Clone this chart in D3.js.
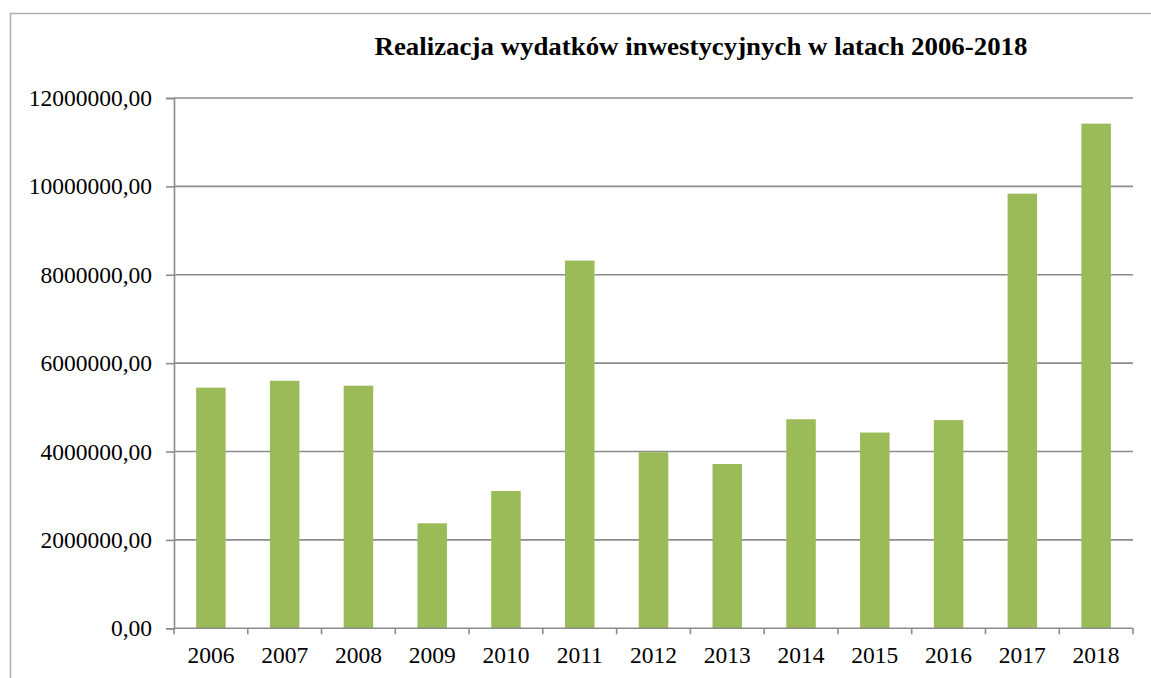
<!DOCTYPE html>
<html>
<head>
<meta charset="utf-8">
<script src="https://cdn.jsdelivr.net/npm/d3@7"></script>
<style>
  body { margin: 0; background: #fff; }
  text { font-family: "Liberation Serif", "Times New Roman", serif; fill: #000; }
</style>
</head>
<body>
<svg id="chart" width="1151" height="678"></svg>
<script>
// data
const years = ["2006", "2007", "2008", "2009", "2010", "2011", "2012",
               "2013", "2014", "2015", "2016", "2017", "2018"];
const spending = [5445000, 5600000, 5490000, 2376000, 3107000, 8320000, 3985000,
                  3718000, 4730000, 4430000, 4710000, 9835000, 11420000];
const yTicks = [0, 2000000, 4000000, 6000000, 8000000, 10000000, 12000000];
const title = "Realizacja wydatków inwestycyjnych w latach 2006-2018";

let chart = d3.select("#chart"),
    margin = {top: 98, right: 18, bottom: 50, left: 174},
    width = 1133 - margin.left,
    height = 628.3 - margin.top;

// outer frame (only left and top edges show in the picture)
chart.append("rect")
    .attr("x", 10.5)
    .attr("y", 13.5)
    .attr("width", 1160)
    .attr("height", 700)
    .attr("fill", "none")
    .attr("stroke", "#b0b0b0")
    .attr("stroke-width", 1.5);

let x = d3.scaleBand()
    .domain(years)
    .range([0, width])
    .paddingInner(0.6)
    .paddingOuter(0.3);

let y = d3.scaleLinear()
    .domain([0, 12000000])
    .range([height, 0]);

let fmt = d => d3.format("d")(d) + ",00";

let g = chart.append("g")
    .attr("transform", "translate(" + margin.left + "," + margin.top + ")");

// horizontal grid lines
g.append("g")
    .selectAll("line")
    .data(yTicks.slice(1))
    .enter()
    .append("line")
    .attr("x1", 0)
    .attr("x2", width)
    .attr("y1", d => y(d))
    .attr("y2", d => y(d))
    .attr("stroke", "#8c8c8c")
    .attr("stroke-width", 1.6);

// bars
g.selectAll("rect.bar")
    .data(spending)
    .enter()
    .append("rect")
    .attr("class", "bar")
    .attr("x", (d, i) => x(years[i]))
    .attr("y", d => y(d))
    .attr("width", x.bandwidth())
    .attr("height", d => height - y(d))
    .attr("fill", "#9bbb59");

// y axis
let yAxis = g.append("g")
    .call(d3.axisLeft(y).tickValues(yTicks).tickFormat(fmt).tickSize(8).tickPadding(14));
yAxis.select(".domain").attr("stroke", "#8c8c8c").attr("stroke-width", 1.6);
yAxis.selectAll(".tick line").attr("stroke", "#8c8c8c").attr("stroke-width", 1.6);
yAxis.selectAll("text")
    .attr("font-size", "23.5px")
    .attr("font-family", "'Liberation Serif', serif")
    .attr("fill", "#000");

// x axis: ticks sit on category boundaries
let xa = g.append("g").attr("transform", "translate(0," + height + ")");
xa.append("line")
    .attr("x1", 0).attr("x2", width)
    .attr("stroke", "#8c8c8c").attr("stroke-width", 1.6);
xa.selectAll("line.tick")
    .data(d3.range(years.length + 1))
    .enter()
    .append("line")
    .attr("class", "tick")
    .attr("x1", i => i * width / years.length)
    .attr("x2", i => i * width / years.length)
    .attr("y1", 0).attr("y2", 6)
    .attr("stroke", "#8c8c8c").attr("stroke-width", 1.6);
xa.selectAll("text")
    .data(years)
    .enter()
    .append("text")
    .attr("x", d => x(d) + x.bandwidth() / 2)
    .attr("y", 35)
    .attr("text-anchor", "middle")
    .attr("font-size", "23.5px")
    .text(d => d);

// title
chart.append("text")
    .attr("x", 701)
    .attr("y", 55)
    .attr("text-anchor", "middle")
    .attr("font-size", "26px")
    .attr("font-weight", "bold")
    .attr("textLength", 653)
    .attr("lengthAdjust", "spacingAndGlyphs")
    .text(title);
</script>
</body>
</html>
